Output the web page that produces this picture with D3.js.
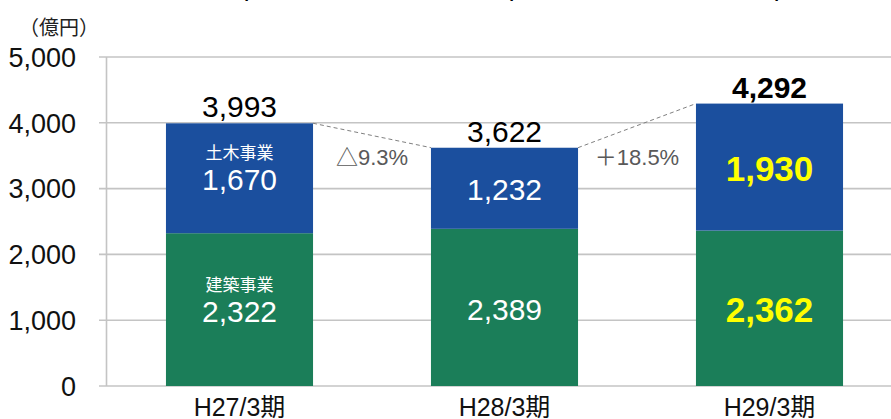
<!DOCTYPE html>
<html>
<head>
<meta charset="utf-8">
<script src="https://cdn.jsdelivr.net/npm/d3@7"></script>
<style>
  body { margin: 0; background: #fff; }
  text { font-family: "Liberation Sans", Arial, "Noto Sans CJK JP", sans-serif; }
</style>
</head>
<body>
<div id="wrapper"></div>
<script>
const categories = ["H27/3期", "H28/3期", "H29/3期"];
const civilValues = [1670, 1232, 1930];
const buildingValues = [2322, 2389, 2362];
const totalValues = [3993, 3622, 4292];
const changeLabels = ["△9.3%", "＋18.5%"];
const segmentNames = ["土木事業", "建築事業"];
const yTicks = [0, 1000, 2000, 3000, 4000, 5000];
const unitLabel = "（億円）";

const width = 891;
const height = 419;

const blue = "#1b4f9e";
const green = "#1b7e59";
const gridColor = "#c4c4c4";

const svg = d3.select("#wrapper")
  .append("svg")
  .attr("width", width)
  .attr("height", height);

const xScale = d3.scaleBand()
  .domain(categories)
  .range([107, 902])
  .paddingInner(0.445)
  .paddingOuter(0.2225);

const yScale = d3.scaleLinear()
  .domain([0, 5000])
  .range([386, 57]);

const fmt = d3.format(",");

// header text, mostly cut off above the picture
svg.append("g")
  .selectAll("text")
  .data(categories)
  .join("text")
  .attr("x", d => xScale(d) + xScale.bandwidth() / 2 + 53)
  .attr("y", -3)
  .attr("text-anchor", "end")
  .attr("font-size", 24)
  .attr("font-weight", "bold")
  .style("font-family", "'Noto Sans CJK JP', sans-serif")
  .text(d => d);

// gridlines
svg.append("g")
  .selectAll("line")
  .data(yTicks)
  .join("line")
  .attr("x1", 99)
  .attr("x2", width)
  .attr("y1", d => yScale(d))
  .attr("y2", d => yScale(d))
  .attr("stroke", gridColor)
  .attr("stroke-width", 1.6);

// y axis line
svg.append("line")
  .attr("x1", 106.5).attr("x2", 106.5)
  .attr("y1", yScale(5000)).attr("y2", yScale(0))
  .attr("stroke", gridColor)
  .attr("stroke-width", 1.6);

// y axis labels
svg.append("g")
  .selectAll("text")
  .data(yTicks)
  .join("text")
  .attr("x", 76)
  .attr("y", d => yScale(d))
  .attr("dy", "0.36em")
  .attr("text-anchor", "end")
  .attr("font-size", 27)
  .attr("fill", "#111")
  .text(d => fmt(d));

svg.append("text")
  .attr("x", 19)
  .attr("y", 35)
  .attr("font-size", 20)
  .attr("fill", "#222")
  .style("font-family", "'Noto Sans CJK JP', sans-serif")
  .text(unitLabel);

// bars
const bars = svg.append("g");

bars.selectAll("rect.building")
  .data(categories)
  .join("rect")
  .attr("class", "building")
  .attr("x", d => xScale(d))
  .attr("width", xScale.bandwidth())
  .attr("y", (d, i) => yScale(buildingValues[i]))
  .attr("height", (d, i) => yScale(0) - yScale(buildingValues[i]))
  .attr("fill", green);

bars.selectAll("rect.civil")
  .data(categories)
  .join("rect")
  .attr("class", "civil")
  .attr("x", d => xScale(d))
  .attr("width", xScale.bandwidth())
  .attr("y", (d, i) => yScale(buildingValues[i] + civilValues[i]))
  .attr("height", (d, i) => yScale(buildingValues[i]) - yScale(buildingValues[i] + civilValues[i]))
  .attr("fill", blue);

// dashed connectors between bar tops
const connectors = d3.range(categories.length - 1);
svg.append("g")
  .selectAll("line")
  .data(connectors)
  .join("line")
  .attr("x1", i => xScale(categories[i]) + xScale.bandwidth())
  .attr("y1", i => yScale(totalValues[i]))
  .attr("x2", i => xScale(categories[i + 1]))
  .attr("y2", i => yScale(totalValues[i + 1]))
  .attr("stroke", "#808080")
  .attr("stroke-width", 1)
  .attr("stroke-dasharray", "4,3");

svg.append("g")
  .selectAll("text")
  .data(connectors)
  .join("text")
  .attr("x", i => (xScale(categories[i]) + xScale.bandwidth() + xScale(categories[i + 1])) / 2)
  .attr("y", i => yScale(Math.min(totalValues[i], totalValues[i + 1])) + 17)
  .attr("text-anchor", "middle")
  .attr("font-size", 22)
  .attr("fill", "#595959")
  .text(i => changeLabels[i]);

const cx = d => xScale(d) + xScale.bandwidth() / 2;
const isLast = i => i === categories.length - 1;

// totals
svg.append("g")
  .selectAll("text")
  .data(categories)
  .join("text")
  .attr("x", cx)
  .attr("y", (d, i) => yScale(totalValues[i]) - 6)
  .attr("text-anchor", "middle")
  .attr("font-size", 30)
  .attr("font-weight", (d, i) => isLast(i) ? "bold" : "normal")
  .attr("fill", "#000")
  .text((d, i) => fmt(totalValues[i]));

// segment values
const civilMid = i => (yScale(buildingValues[i]) + yScale(buildingValues[i] + civilValues[i])) / 2;
const buildingMid = i => (yScale(0) + yScale(buildingValues[i])) / 2;

svg.append("g")
  .selectAll("text")
  .data(categories)
  .join("text")
  .attr("x", cx)
  .attr("y", (d, i) => civilMid(i))
  .attr("dy", (d, i) => isLast(i) ? "0.4em" : "0.38em")
  .attr("text-anchor", "middle")
  .attr("font-size", (d, i) => isLast(i) ? 35 : 30)
  .attr("font-weight", (d, i) => isLast(i) ? "bold" : "normal")
  .attr("fill", (d, i) => isLast(i) ? "#ffff00" : "#fff")
  .text((d, i) => fmt(civilValues[i]));

svg.append("g")
  .selectAll("text")
  .data(categories)
  .join("text")
  .attr("x", cx)
  .attr("y", (d, i) => buildingMid(i))
  .attr("dy", (d, i) => isLast(i) ? "0.4em" : "0.42em")
  .attr("text-anchor", "middle")
  .attr("font-size", (d, i) => isLast(i) ? 35 : 30)
  .attr("font-weight", (d, i) => isLast(i) ? "bold" : "normal")
  .attr("fill", (d, i) => isLast(i) ? "#ffff00" : "#fff")
  .text((d, i) => fmt(buildingValues[i]));

// segment names on the first bar
const first = categories[0];
svg.append("text")
  .attr("x", cx(first))
  .attr("y", civilMid(0) - 19)
  .attr("text-anchor", "middle")
  .attr("font-size", 17)
  .attr("fill", "#fff")
  .style("font-family", "'Noto Sans CJK JP', sans-serif")
  .text(segmentNames[0]);

svg.append("text")
  .attr("x", cx(first))
  .attr("y", buildingMid(0) - 19)
  .attr("text-anchor", "middle")
  .attr("font-size", 17)
  .attr("fill", "#fff")
  .style("font-family", "'Noto Sans CJK JP', sans-serif")
  .text(segmentNames[1]);

// category labels
svg.append("g")
  .selectAll("text")
  .data(categories)
  .join("text")
  .attr("x", cx)
  .attr("y", 416)
  .attr("text-anchor", "middle")
  .attr("font-size", 25)
  .attr("fill", "#111")
  .text(d => d);
</script>
</body>
</html>
